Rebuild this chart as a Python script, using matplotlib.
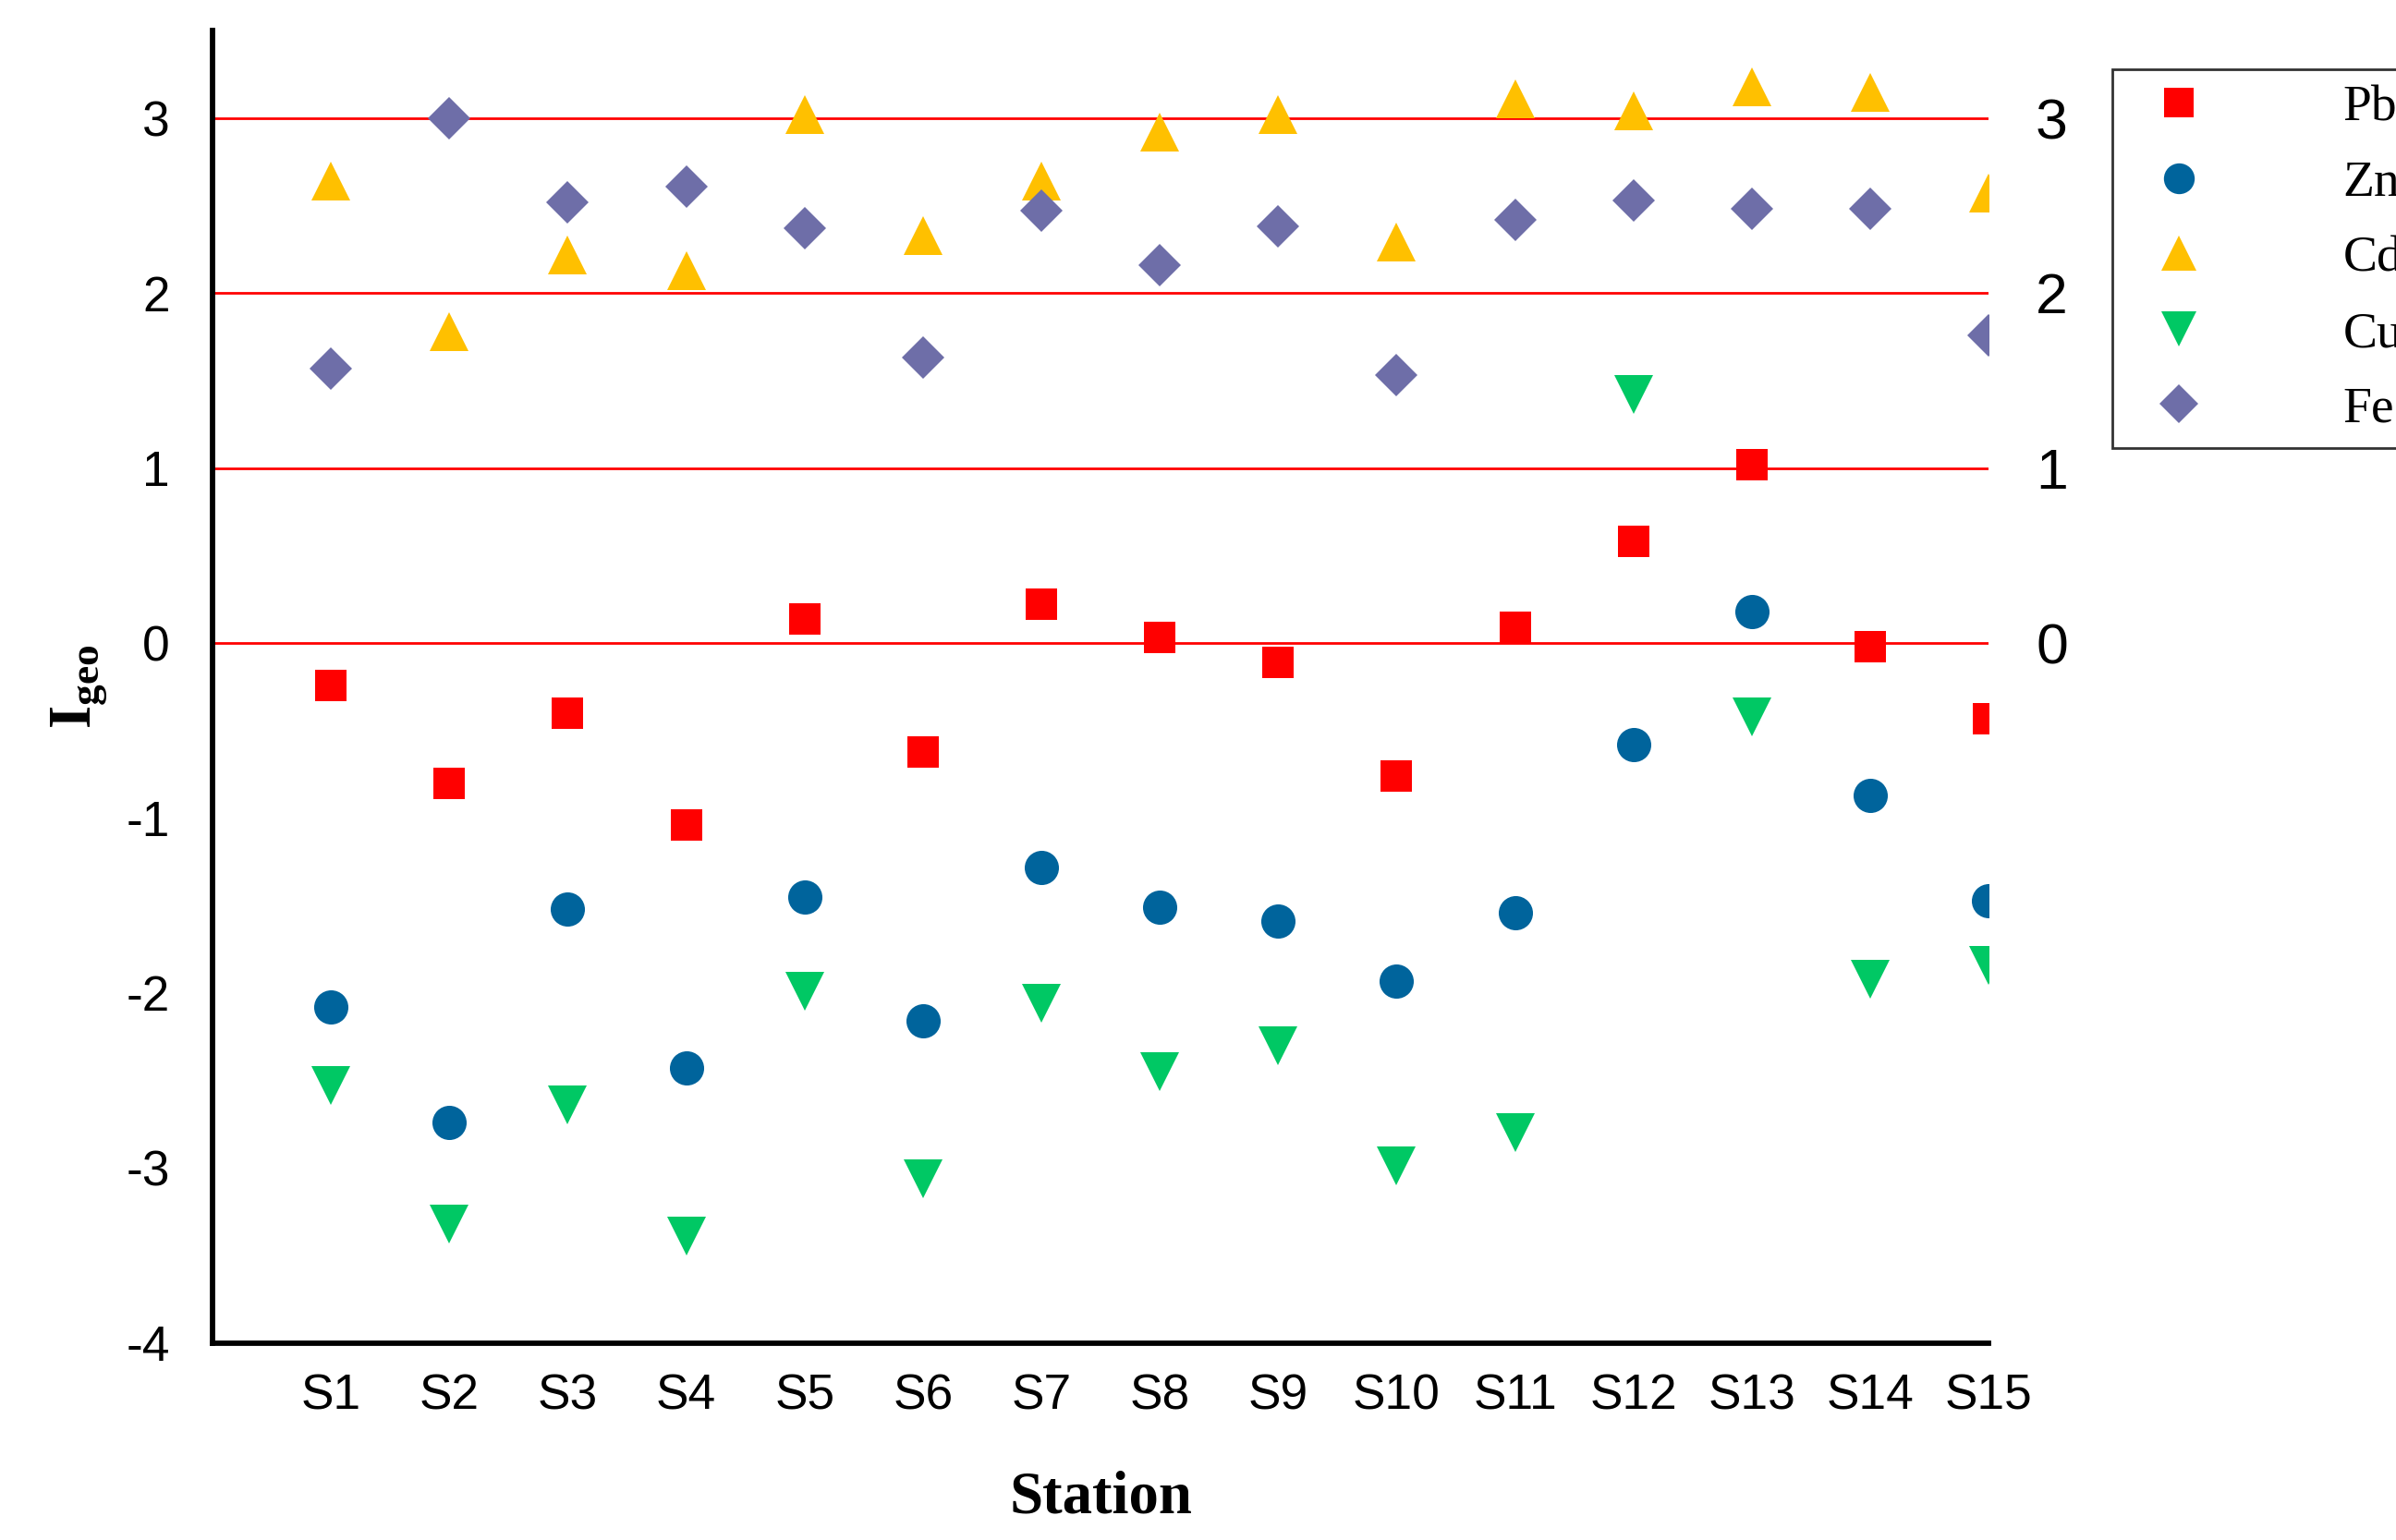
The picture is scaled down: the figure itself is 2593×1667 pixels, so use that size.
import matplotlib
matplotlib.use("Agg")
import matplotlib.pyplot as plt

plt.rcParams["mathtext.fontset"] = "custom"
plt.rcParams["mathtext.bf"] = "Liberation Serif:bold"
plt.rcParams["mathtext.rm"] = "Liberation Serif"

stations = [f"S{i}" for i in range(1, 16)]
pb = [-0.24, -0.80, -0.40, -1.04, 0.14, -0.62, 0.22, 0.03, -0.11, -0.76, 0.09, 0.58, 1.02, -0.02, -0.43]
zn = [-2.08, -2.74, -1.52, -2.43, -1.45, -2.16, -1.28, -1.51, -1.59, -1.93, -1.54, -0.58, 0.18, -0.87, -1.47]
cd = [2.64, 1.78, 2.22, 2.13, 3.02, 2.33, 2.64, 2.92, 3.02, 2.29, 3.11, 3.04, 3.18, 3.15, 2.57]
cu = [-2.53, -3.32, -2.64, -3.39, -1.99, -3.06, -2.06, -2.45, -2.30, -2.99, -2.80, 1.42, -0.42, -1.92, -1.84]
fe = [1.57, 3.00, 2.52, 2.61, 2.37, 1.63, 2.47, 2.16, 2.38, 1.53, 2.42, 2.53, 2.48, 2.48, 1.76]

series = [
    ("Pb", pb, "s", "#ff0000", 15),
    ("Zn", zn, "o", "#00649c", 16),
    ("Cd", cd, "^", "#ffc000", 18),
    ("Cu", cu, "v", "#00c864", 18),
    ("Fe", fe, "D", "#6e6ea8", 14),
]

fig = plt.figure(figsize=(15.56, 10), dpi=166.7)
ax = fig.add_axes([0.0887, 0.128, 0.741, 0.852])
x = list(range(1, 16))

for yv in [0, 1, 2, 3]:
    ax.axhline(yv, color="#ff0000", lw=1.2, zorder=1)

for name, vals, m, c, ms in series:
    ax.plot(x, vals, linestyle="none", marker=m, color=c, markersize=ms,
            markeredgewidth=0, label=name, zorder=3)

ax.set_xlim(0, 15)
ax.set_ylim(-4, 3.5)
ax.set_xticks(x)
ax.set_xticklabels(stations, fontsize=23, family="Liberation Sans")
ax.set_yticks(range(-4, 4))
ax.set_yticklabels([str(v) for v in range(-4, 4)], fontsize=23, family="Liberation Sans")
ax.tick_params(length=0, pad=14)
ax.tick_params(axis="y", pad=20)
for s in ["top", "right"]:
    ax.spines[s].set_visible(False)
for s in ["left", "bottom"]:
    ax.spines[s].set_linewidth(2.5)

ax2 = ax.twinx()
ax2.set_ylim(ax.get_ylim())
ax2.set_yticks([0, 1, 2, 3])
ax2.set_yticklabels(["0", "1", "2", "3"], fontsize=27, family="Liberation Sans")
ax2.tick_params(length=0, pad=22)
for s in ax2.spines.values():
    s.set_visible(False)

ax.set_xlabel("Station", fontsize=28, fontweight="bold", family="Liberation Serif", labelpad=24)
ax.set_ylabel(r"$\mathbf{I_{geo}}$", fontsize=28, labelpad=8)

leg = ax.legend(loc="upper left", bbox_to_anchor=(1.055, 0.99), prop={"family": "Liberation Serif", "size": 24},
                frameon=True, fancybox=False, edgecolor="black", handletextpad=2.2,
                borderpad=0.3, labelspacing=0.55, markerscale=0.9)
leg.get_frame().set_linewidth(1.2)

fig.savefig("out.png", dpi=166.7)
